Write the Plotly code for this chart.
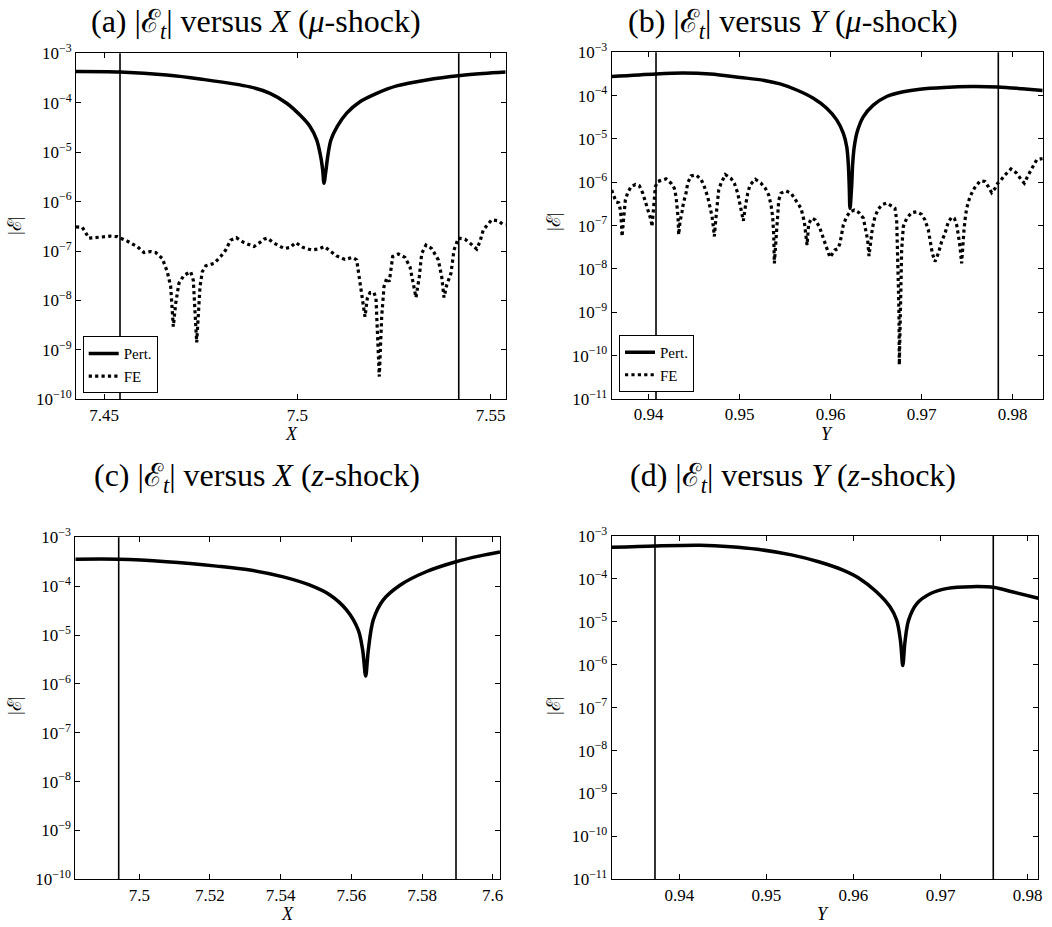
import plotly.graph_objects as go

# ---------------- data (log10 of |E|) ----------------
pert_a_x = [7.44276, 7.45414, 7.46621, 7.47483, 7.48776, 7.49293, 7.49725, 7.50069, 7.50327, 7.50500,
            7.50604, 7.50655, 7.50689, 7.50741, 7.50785, 7.50870, 7.51033, 7.51276, 7.51620, 7.52052,
            7.52569, 7.53345, 7.54224, 7.54809, 7.55388]
pert_a_log = [-3.37, -3.38, -3.44, -3.52, -3.68, -3.81, -4.01, -4.25, -4.48, -4.75,
              -5.09, -5.36, -5.63, -5.36, -5.09, -4.75, -4.48, -4.21, -3.98, -3.81,
              -3.66, -3.54, -3.45, -3.41, -3.38]

fe_a_x = [7.44276, 7.44439, 7.44612, 7.44827, 7.45173, 7.45344, 7.45603, 7.45861, 7.46034, 7.46208,
          7.46337, 7.46508, 7.46637, 7.46725, 7.46792, 7.46854, 7.46939, 7.47069, 7.47242, 7.47309,
          7.47397, 7.47483, 7.47542, 7.47630, 7.47845, 7.48018, 7.48147, 7.48276, 7.48421, 7.48620,
          7.48879, 7.49008, 7.49138, 7.49223, 7.49396, 7.49655, 7.49810, 7.49957, 7.50154, 7.50371,
          7.50542, 7.50697, 7.50844, 7.51018, 7.51232, 7.51431, 7.51535, 7.51576, 7.51638, 7.51749,
          7.51809, 7.51879, 7.51982, 7.52034, 7.52119, 7.52181, 7.52241, 7.52311, 7.52378, 7.52466,
          7.52611, 7.52784, 7.52913, 7.52998, 7.53068, 7.53154, 7.53216, 7.53327, 7.53474, 7.53645,
          7.53733, 7.53792, 7.53862, 7.53973, 7.54051, 7.54162, 7.54335, 7.54465, 7.54638, 7.54723,
          7.54809, 7.55026, 7.55197, 7.55326, 7.55388]
fe_a_log = [-6.51, -6.52, -6.74, -6.73, -6.70, -6.71, -6.80, -6.91, -7.03, -7.01,
            -7.03, -7.15, -7.42, -7.72, -8.53, -8.06, -7.65, -7.49, -7.42, -7.59,
            -8.85, -7.72, -7.42, -7.30, -7.25, -7.11, -6.98, -6.78, -6.73, -6.83,
            -6.91, -6.84, -6.76, -6.74, -6.84, -6.95, -6.93, -6.83, -6.93, -6.98,
            -6.96, -6.91, -6.99, -7.10, -7.17, -7.13, -7.18, -7.42, -7.79, -8.33,
            -7.96, -7.84, -7.84, -7.96, -9.54, -8.33, -7.72, -7.55, -7.62, -7.11,
            -7.06, -7.13, -7.32, -7.65, -7.94, -7.52, -7.05, -6.88, -6.95, -7.18,
            -7.52, -7.94, -7.69, -7.45, -6.98, -6.74, -6.76, -6.84, -6.96, -6.81,
            -6.57, -6.37, -6.39, -6.47, -6.47]

pert_b_x = [0.93593, 0.94078, 0.94377, 0.94674, 0.95010, 0.95271, 0.95443, 0.95626, 0.95809, 0.95956,
            0.96066, 0.96139, 0.96176, 0.96193, 0.96204, 0.96212, 0.96230, 0.96242, 0.96259, 0.96292,
            0.96358, 0.96468, 0.96615, 0.96798, 0.96981, 0.97247, 0.97546, 0.97837, 0.98105, 0.98330]
pert_b_log = [-3.56, -3.50, -3.48, -3.50, -3.58, -3.65, -3.73, -3.87, -4.06, -4.29,
              -4.56, -4.87, -5.18, -5.56, -6.10, -6.60, -6.10, -5.56, -5.18, -4.83,
              -4.49, -4.22, -4.02, -3.91, -3.85, -3.81, -3.79, -3.80, -3.84, -3.88]

fe_b_x = [0.93593, 0.93611, 0.93641, 0.93670, 0.93685, 0.93696, 0.93707, 0.93721, 0.93732, 0.93743,
          0.93769, 0.93806, 0.93853, 0.93897, 0.93934, 0.93970, 0.94000, 0.94025, 0.94036, 0.94055,
          0.94073, 0.94099, 0.94146, 0.94190, 0.94245, 0.94282, 0.94300, 0.94311, 0.94322, 0.94329,
          0.94344, 0.94366, 0.94381, 0.94410, 0.94428, 0.94465, 0.94520, 0.94575, 0.94611, 0.94648,
          0.94674, 0.94696, 0.94710, 0.94721, 0.94740, 0.94751, 0.94769, 0.94795, 0.94842, 0.94904,
          0.94941, 0.94978, 0.94996, 0.95014, 0.95040, 0.95062, 0.95088, 0.95113, 0.95172, 0.95234,
          0.95282, 0.95318, 0.95344, 0.95362, 0.95373, 0.95381, 0.95399, 0.95410, 0.95429, 0.95454,
          0.95509, 0.95564, 0.95619, 0.95674, 0.95710, 0.95729, 0.95740, 0.95758, 0.95795, 0.95831,
          0.95875, 0.95919, 0.95956, 0.95992, 0.96047, 0.96076, 0.96102, 0.96120, 0.96139, 0.96175,
          0.96212, 0.96260, 0.96311, 0.96359, 0.96384, 0.96406, 0.96421, 0.96439, 0.96458, 0.96487,
          0.96523, 0.96560, 0.96615, 0.96670, 0.96706, 0.96725, 0.96736, 0.96743, 0.96751, 0.96754,
          0.96765, 0.96773, 0.96780, 0.96798, 0.96835, 0.96890, 0.96945, 0.97000, 0.97036, 0.97073,
          0.97091, 0.97117, 0.97146, 0.97183, 0.97219, 0.97256, 0.97293, 0.97329, 0.97359, 0.97384,
          0.97402, 0.97421, 0.97439, 0.97450, 0.97465, 0.97476, 0.97494, 0.97531, 0.97578, 0.97641,
          0.97696, 0.97732, 0.97769, 0.97806, 0.97835, 0.97860, 0.97915, 0.97981, 0.98043, 0.98098,
          0.98128, 0.98172, 0.98227, 0.98264, 0.98330]
fe_b_log = [-6.18, -6.29, -6.45, -6.47, -6.60, -6.79, -7.25, -6.91, -6.60, -6.41,
            -6.24, -6.10, -6.05, -6.08, -6.25, -6.48, -6.71, -6.87, -7.02, -6.56,
            -6.10, -5.98, -5.95, -5.92, -6.02, -6.14, -6.33, -6.52, -6.79, -7.21,
            -6.91, -6.68, -6.48, -6.25, -6.02, -5.85, -5.83, -5.93, -6.10, -6.33,
            -6.56, -6.79, -7.02, -7.25, -6.79, -6.48, -6.18, -6.02, -5.82, -5.91,
            -6.02, -6.25, -6.45, -6.68, -6.89, -6.56, -6.25, -6.06, -5.93, -6.02,
            -6.14, -6.29, -6.52, -6.79, -7.18, -7.87, -7.25, -6.79, -6.41, -6.25,
            -6.20, -6.25, -6.41, -6.60, -6.91, -7.18, -7.45, -6.95, -6.83, -6.87,
            -7.02, -7.29, -7.52, -7.73, -7.56, -7.54, -7.41, -7.18, -6.98, -6.79,
            -6.68, -6.64, -6.70, -6.83, -7.06, -7.33, -7.70, -7.33, -7.06, -6.79,
            -6.62, -6.52, -6.48, -6.55, -6.60, -6.87, -7.56, -8.33, -9.10, -10.21,
            -9.10, -8.33, -7.56, -7.02, -6.83, -6.70, -6.68, -6.74, -6.87, -7.10,
            -7.37, -7.64, -7.83, -7.64, -7.37, -7.18, -6.91, -6.81, -6.83, -6.98,
            -7.21, -7.48, -7.87, -7.48, -7.10, -6.87, -6.60, -6.33, -6.14, -5.97,
            -5.98, -6.10, -6.24, -6.14, -6.02, -5.98, -5.83, -5.69, -5.79, -5.95,
            -6.02, -5.83, -5.60, -5.48, -5.45]

pert_c_x = [7.48189, 7.49417, 7.50775, 7.52190, 7.53132, 7.54075, 7.54830, 7.55396, 7.55869, 7.56197,
            7.56321, 7.56406, 7.56480, 7.56621, 7.56904, 7.57377, 7.58132, 7.58962, 7.59641, 7.60207]
pert_c_log = [-3.45, -3.45, -3.50, -3.59, -3.67, -3.81, -3.98, -4.18, -4.49, -4.90,
              -5.31, -5.84, -5.31, -4.69, -4.28, -3.98, -3.70, -3.50, -3.38, -3.30]

pert_d_x = [0.93224, 0.93727, 0.94237, 0.94588, 0.94899, 0.95288, 0.95600, 0.95873, 0.96068, 0.96263,
            0.96419, 0.96496, 0.96540, 0.96566, 0.96592, 0.96633, 0.96730, 0.96886, 0.97080, 0.97354,
            0.97619, 0.97821, 0.98122]
pert_d_log = [-3.265, -3.233, -3.217, -3.249, -3.31, -3.44, -3.60, -3.79, -3.99, -4.30,
              -4.65, -4.96, -5.45, -6.02, -5.45, -4.96, -4.57, -4.34, -4.22, -4.18,
              -4.20, -4.30, -4.45]

vlines_a = [7.45414, 7.54174]
vlines_b = [0.94080, 0.97842]
vlines_c = [7.49417, 7.58962]
vlines_d = [0.93721, 0.97605]

xrange_a = [7.44276, 7.55388]
xrange_b = [0.93593, 0.98330]
xrange_c = [7.48189, 7.60207]
xrange_d = [0.93224, 0.98122]

xticks_a = [7.45, 7.5, 7.55]
xticks_a_text = ["7.45", "7.5", "7.55"]
xticks_c = [7.5, 7.52, 7.54, 7.56, 7.58, 7.6]
xticks_c_text = ["7.5", "7.52", "7.54", "7.56", "7.58", "7.6"]
xticks_y = [0.94, 0.95, 0.96, 0.97, 0.98]
xticks_y_text = ["0.94", "0.95", "0.96", "0.97", "0.98"]

yexp_a = [-10, -3]
yexp_b = [-11, -3]

titles = ["(a) |ℰ<sub><i>t</i></sub>| versus <i>X</i> (<i>μ</i>-shock)",
          "(b) |ℰ<sub><i>t</i></sub>| versus <i>Y</i> (<i>μ</i>-shock)",
          "(c) |ℰ<sub><i>t</i></sub>| versus <i>X</i> (<i>z</i>-shock)",
          "(d) |ℰ<sub><i>t</i></sub>| versus <i>Y</i> (<i>z</i>-shock)"]
xlabels = ["<i>X</i>", "<i>Y</i>", "<i>X</i>", "<i>Y</i>"]

# ---------------- layout geometry (pixels) ----------------
W, H = 1052, 927
FONT = "Liberation Serif, DejaVu Serif, serif"
# (left, right, top, bottom) of each axes box
boxes = [(76, 505.7, 53.3, 399.3), (611.7, 1042.7, 52.3, 399.0),
         (75.3, 500.0, 537.3, 879.3), (611.7, 1038.3, 536.0, 879.3)]
title_pos = [(256, 23), (793, 23), (257, 477), (793, 477)]
ylab_pos = [(14, 226), (553, 222), (14, 706), (553, 706)]
xlab_pos = [(291, 434), (827, 434), (287, 914), (823, 914)]

def px(x):
    return x / W

def py(y):
    return 1 - y / H

def powlist(e0, e1):
    return [10.0 ** e for e in range(e0, e1 + 1)]

def powtext(e0, e1):
    return ["10<sup>\u2212%d</sup>" % (-e) for e in range(e0, e1 + 1)]

fig = go.Figure()

def line_trace(x, logs, idx, name, dash, width, legend, show, shape):
    sfx = "" if idx == 1 else str(idx)
    ln = dict(color="black", width=width, dash=dash, shape=shape)
    if shape == "spline":
        ln["smoothing"] = 0.9
    return go.Scatter(x=x, y=[10.0 ** v for v in logs], mode="lines", name=name,
                      line=ln, xaxis="x" + sfx, yaxis="y" + sfx,
                      showlegend=show, legend=legend)

fig.add_trace(line_trace(pert_a_x, pert_a_log, 1, "Pert.", "solid", 3.5, "legend", True, "spline"))
fig.add_trace(line_trace(fe_a_x, fe_a_log, 1, "FE", "dot", 3.2, "legend", True, "linear"))
fig.add_trace(line_trace(pert_b_x, pert_b_log, 2, "Pert.", "solid", 3.5, "legend2", True, "spline"))
fig.add_trace(line_trace(fe_b_x, fe_b_log, 2, "FE", "dot", 3.2, "legend2", True, "linear"))
fig.add_trace(line_trace(pert_c_x, pert_c_log, 3, "Pert.", "solid", 3.5, "legend", False, "spline"))
fig.add_trace(line_trace(pert_d_x, pert_d_log, 4, "Pert.", "solid", 3.5, "legend", False, "spline"))

layout = dict(width=W, height=H, margin=dict(l=0, r=0, t=0, b=0, autoexpand=False),
              template="none",
              paper_bgcolor="white", plot_bgcolor="white",
              font=dict(family=FONT, color="black", size=17))

xinfo = [(xrange_a, xticks_a, xticks_a_text), (xrange_b, xticks_y, xticks_y_text),
         (xrange_c, xticks_c, xticks_c_text), (xrange_d, xticks_y, xticks_y_text)]
yinfo = [yexp_a, yexp_b, yexp_a, yexp_b]
vls = [vlines_a, vlines_b, vlines_c, vlines_d]

shapes = []
annotations = []
for i in range(4):
    sfx = "" if i == 0 else str(i + 1)
    l, r, t, b = boxes[i]
    xr, tv, tt = xinfo[i]
    e0, e1 = yinfo[i]
    common = dict(showline=True, linecolor="black", linewidth=1, mirror="ticks",
                  ticks="inside", ticklen=5, tickwidth=1, tickcolor="black",
                  showgrid=False, zeroline=False, automargin=False,
                  tickfont=dict(family=FONT, size=17))
    layout["xaxis" + sfx] = dict(domain=[px(l), px(r)], range=xr, tickvals=tv, ticktext=tt,
                                 anchor="y" + sfx, **common)
    layout["yaxis" + sfx] = dict(domain=[py(b), py(t)], type="log", range=[e0, e1],
                                 tickvals=powlist(e0, e1), ticktext=powtext(e0, e1),
                                 anchor="x" + sfx, **common)
    for v in vls[i]:
        shapes.append(dict(type="line", xref="x" + sfx, yref="y" + sfx + " domain",
                           x0=v, x1=v, y0=0, y1=1, line=dict(color="black", width=1.6),
                           layer="above"))
    annotations.append(dict(text=titles[i], x=px(title_pos[i][0]), y=py(title_pos[i][1]),
                            xref="paper", yref="paper", showarrow=False,
                            xanchor="center", yanchor="middle",
                            font=dict(family=FONT, size=32)))
    annotations.append(dict(text="|ℰ|", x=px(ylab_pos[i][0]), y=py(ylab_pos[i][1]),
                            xref="paper", yref="paper", showarrow=False, textangle=-90,
                            xanchor="center", yanchor="middle",
                            font=dict(family=FONT, size=19)))
    annotations.append(dict(text=xlabels[i], x=px(xlab_pos[i][0]), y=py(xlab_pos[i][1]),
                            xref="paper", yref="paper", showarrow=False,
                            xanchor="center", yanchor="middle",
                            font=dict(family=FONT, size=18)))

legend_style = dict(bgcolor="white", bordercolor="black", borderwidth=1,
                    font=dict(family=FONT, size=15), xanchor="left", yanchor="bottom",
                    tracegroupgap=0, itemwidth=30)
layout["legend"] = dict(x=px(82.7), y=py(393.3), **legend_style)
layout["legend2"] = dict(x=px(619), y=py(392.0), **legend_style)
layout["shapes"] = shapes
layout["annotations"] = annotations

fig.update_layout(**layout)
fig.write_html("out.html",
               config={"displayModeBar": False},
               post_script="document.body.style.margin='0px';"
                           "document.body.style.overflow='hidden';")
